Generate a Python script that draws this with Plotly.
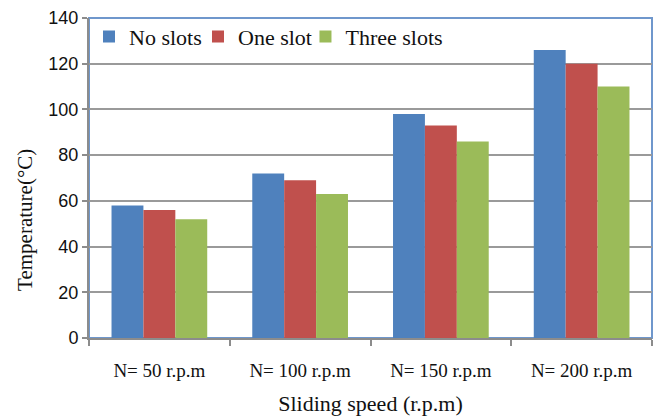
import plotly.graph_objects as go

categories = ["N= 50 r.p.m", "N= 100 r.p.m", "N= 150 r.p.m", "N= 200 r.p.m"]
no_slots = [58, 72, 98, 126]
one_slot = [56, 69, 93, 120]
three_slots = [52, 63, 86, 110]
y_ticks = [0, 20, 40, 60, 80, 100, 120, 140]

serif = "Liberation Serif"
sans = "Liberation Sans"

series = [
    ("No slots", no_slots, "#4F81BD", "legend", 0.0),
    ("One slot", one_slot, "#C0504D", "legend2", 0.1936),
    ("Three slots", three_slots, "#9BBB59", "legend3", 0.3845),
]

fig = go.Figure()
legend_layouts = {}
for name, vals, color, leg, lx in series:
    fig.add_trace(go.Bar(x=categories, y=vals, name=name, marker_color=color,
                         marker_line_width=0, legend=leg, showlegend=True))
    legend_layouts[leg] = dict(orientation="h", x=lx, y=1.007, xanchor="left", yanchor="top",
                               font=dict(family=serif, size=22, color="#111"),
                               bgcolor="rgba(0,0,0,0)", itemwidth=30)

fig.update_layout(
    width=656, height=416,
    margin=dict(l=89, r=4, t=18, b=78),
    plot_bgcolor="white", paper_bgcolor="white",
    showlegend=True,
    barmode="group", bargap=0.32, bargroupgap=0,
    xaxis=dict(
        tickfont=dict(family=serif, size=19, color="#111"),
        ticklabelstandoff=14,
        title=dict(text="Sliding speed (r.p.m)", font=dict(family=serif, size=22, color="#111"),
                   standoff=16),
        showline=True, linecolor="#8C8C8C", linewidth=2,
        ticks="outside", tickson="boundaries", ticklen=6, tickcolor="#8C8C8C", tickwidth=2,
        showgrid=False,
    ),
    yaxis=dict(
        range=[0, 140], tickvals=y_ticks,
        tickfont=dict(family=sans, size=18, color="#111"),
        showline=True, linecolor="#8C8C8C", linewidth=2,
        ticks="outside", ticklen=5, tickcolor="#8C8C8C", tickwidth=2,
        showgrid=True, gridcolor="#9A9A9A", gridwidth=2,
        zeroline=False,
    ),
    shapes=[dict(type="rect", xref="paper", yref="paper", x0=0, x1=1, y0=0, y1=1,
                 line=dict(color="#6F97CC", width=2), layer="below")],
    annotations=[dict(text="Temperature(°C)", xref="paper", yref="paper",
                      x=-0.1137, y=0.369, xanchor="center", yanchor="middle",
                      textangle=-90, showarrow=False,
                      font=dict(family=serif, size=21, color="#111"))],
    **legend_layouts,
)

fig.write_html("out.html")
